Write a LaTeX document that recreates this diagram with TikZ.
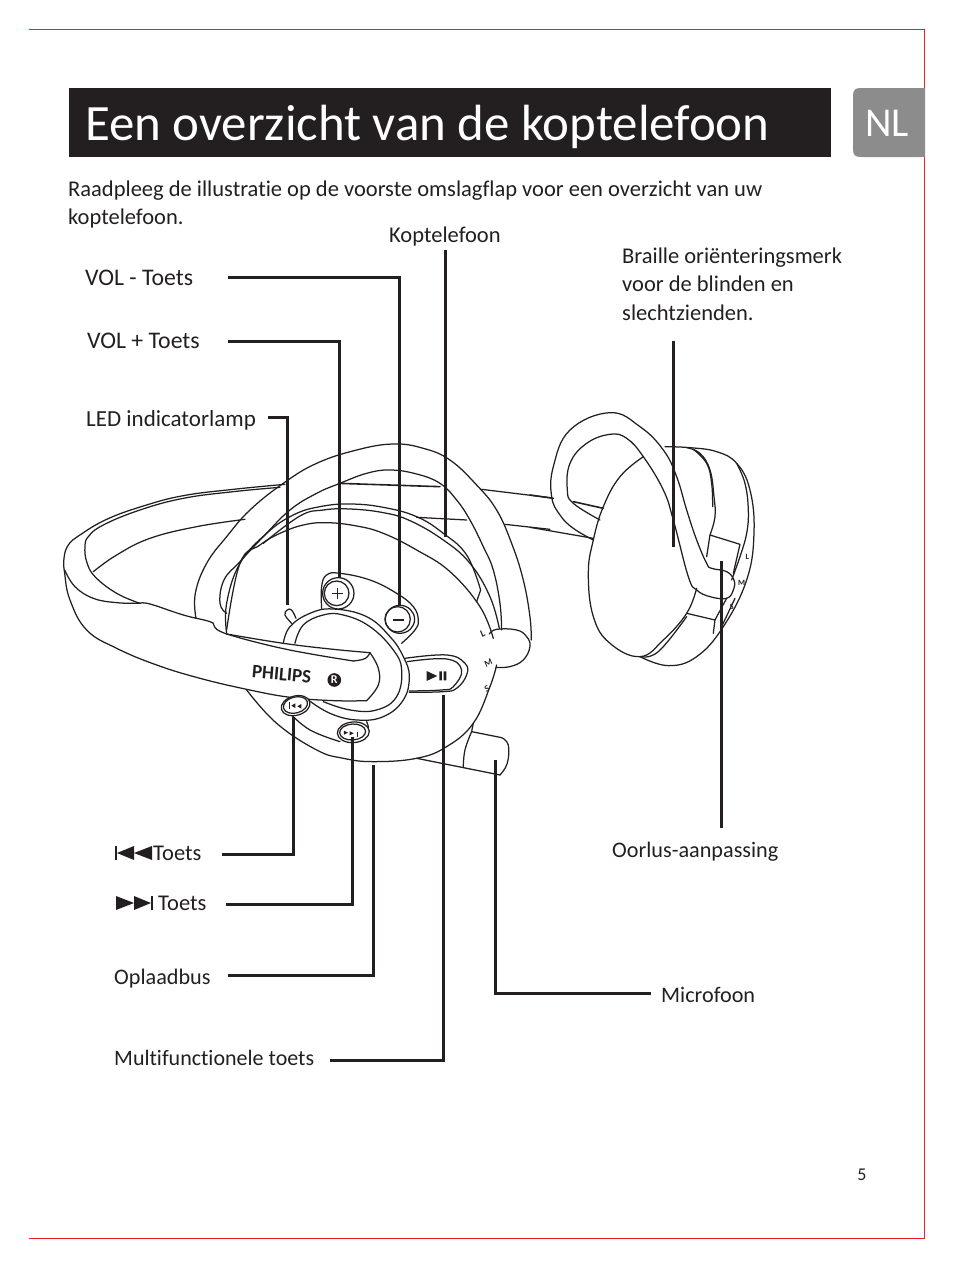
\documentclass[tikz,border=0pt]{standalone}
\usepackage{fontspec}
\setmainfont[Ligatures=CommonOff]{Carlito}
\definecolor{ink}{HTML}{231F20}
\definecolor{edge}{HTML}{E8202E}
\tikzset{
 ln/.style={line width=1.25pt,draw=ink,line cap=round,line join=round},
 lead/.style={line width=3pt,draw=ink},
 lbl/.style={anchor=base west,inner sep=0pt,text=ink,font=\fontsize{22.5}{28}\selectfont}
}
\newcommand{\crv}[1]{\draw[ln] plot[smooth,tension=0.7] coordinates {#1};}
\begin{document}
\begin{tikzpicture}[x=1pt,y=-1pt]
\useasboundingbox (0,0) rectangle (954,1267);
% page border
\draw[line width=0.9pt,draw=edge] (29,29) -- (924,29) -- (924,1238) -- (29,1238);
% title
\fill[ink] (69,88) rectangle (831,157);
\node[anchor=base west,inner sep=0pt,text=white,font=\fontsize{50.9}{60}\selectfont] (title) at (85,140) {Een overzicht van de koptelefoon};
\fill[black!45] (925,88) -- (861,88) .. controls (855,88) and (853,90) .. (853,96) -- (853,149) .. controls (853,155) and (855,157) .. (861,157) -- (925,157) -- cycle;
\node[anchor=base,inner sep=0pt,text=white,font=\fontsize{41}{44}\selectfont] (nl) at (887,136) {NL};
\node[lbl] (intro1) at (68,196) {Raadpleeg de illustratie op de voorste omslagflap voor een overzicht van uw};
\node[lbl] (intro2) at (68,224) {koptelefoon.};
\node[lbl] (kop) at (389,242) {Koptelefoon};
\node[lbl] (br1) at (622,263) {Braille oriënteringsmerk};
\node[lbl] (br2) at (622,291) {voor de blinden en};
\node[lbl] (br3) at (622,320) {slechtzienden.};
\node[lbl,font=\fontsize{23.8}{28}\selectfont] (volm) at (85,285) {VOL - Toets};
\node[lbl,font=\fontsize{23.8}{28}\selectfont] (volp) at (87,348) {VOL + Toets};
\node[lbl,font=\fontsize{23}{28}\selectfont] (led) at (86,426) {LED indicatorlamp};
\node[lbl] (prev) at (153,860) {Toets};
\node[lbl] (next) at (158,910) {Toets};
\node[lbl,font=\fontsize{22.2}{28}\selectfont] (opl) at (114,984) {Oplaadbus};
\node[lbl,font=\fontsize{22}{28}\selectfont] (multi) at (114,1065) {Multifunctionele toets};
\node[lbl,font=\fontsize{22.2}{28}\selectfont] (oor) at (612,857) {Oorlus-aanpassing};
\node[lbl,font=\fontsize{22.2}{28}\selectfont] (mic) at (661,1002) {Microfoon};
\node[anchor=base,inner sep=0pt,text=ink,font=\fontsize{18}{20}\selectfont] (pg) at (862,1180) {5};
% transport icons in labels
\fill[ink] (115,846) rectangle (117,860);
\fill[ink] (117,853) -- (134,846) -- (134,860) -- cycle (134,853) -- (152,846) -- (152,860) -- cycle;
\fill[ink] (116,896) -- (134,903) -- (116,910) -- cycle (134,896) -- (151,903) -- (134,910) -- cycle;
\fill[ink] (151,896) rectangle (153,910);

\begin{scope}[xshift=50pt,yshift=-430pt,x=0.3333pt,y=-0.3333pt]
% headband
\crv{(705,163) (550,178) (400,197) (280,228) (170,268) (90,315) (55,345) (42,385) (44,430) (60,510) (110,600) (200,655) (320,705) (450,745) (590,778) (720,802) (850,812) (950,812)}
\crv{(950,812) (985,765) (985,715) (960,668)}
\crv{(44,420) (75,470) (130,505) (200,518) (270,520)}
\crv{(270,520) (300,522) (400,555) (470,572) (490,580)}
\crv{(490,580) (500,598) (530,612)}
\crv{(530,612) (700,640) (850,658) (960,668)}
\crv{(960,668) (945,686) (910,693)}
\crv{(910,693) (800,675) (700,656) (600,632) (530,612)}
\crv{(690,172) (550,185) (400,205) (270,240) (160,285) (115,320) (105,350) (110,395) (135,440) (200,490) (270,520)}
\crv{(130,425) (200,375) (300,325) (440,290) (585,268)}
\draw[ln] (1295,178) -- (1500,203);
\draw[ln] (1365,283) -- (1500,298);
\draw[ln,line width=1.6pt] (865,160) -- (1170,170);
\draw[ln] (1100,262) -- (1250,270);
% ear hook over the near cup
\crv{(438,565) (436,490) (470,400) (530,320) (600,240) (700,160) (800,100) (920,60) (1030,42) (1120,55) (1200,90) (1280,165) (1340,240) (1385,340) (1420,450) (1440,560) (1444,630)}
\crv{(530,550) (510,520) (522,450) (570,395) (640,320) (720,240) (800,190) (870,160) (950,130) (1020,120) (1100,132) (1170,160) (1220,210) (1260,270) (1300,350) (1330,420) (1350,520) (1355,600)}
% near cup arcs
\crv{(530,610) (530,520) (570,400) (650,310) (730,255) (810,230) (900,222) (1000,232) (1100,260) (1180,310) (1250,375) (1292,480)}
\draw[ln] (1292,480) -- (1280,515);
\crv{(640,340) (750,258) (820,240) (900,237) (1000,248) (1080,272) (1180,330) (1260,400) (1320,500) (1348,595)}
\crv{(530,600) (570,400) (630,345) (690,310) (760,285) (830,278) (920,288) (1000,310) (1100,360) (1200,425) (1290,530) (1330,625)}
\crv{(1340,705) (1320,770) (1270,880) (1190,950) (1100,985) (970,995) (880,985) (800,960) (680,880) (590,780)}
% side bulge
\crv{(1318,612) (1340,598) (1400,600) (1430,620) (1440,650) (1420,690) (1380,710) (1338,712)}
% central oval
\crv{(700,640) (720,590) (780,550) (850,537) (950,560) (1020,620) (1060,680) (1078,740) (1060,810) (1000,860) (920,870) (840,850) (775,810)}
\crv{(735,640) (760,585) (820,555) (880,555) (960,590) (1030,660) (1055,720) (1040,800) (980,840) (900,840) (820,815)}
% volume plate
\crv{(815,535) (815,470) (830,435) (870,430) (960,450) (1040,490) (1090,530) (1105,570) (1095,600) (1055,640)}
\draw[ln,fill=white] (865,490) circle[radius=47];
\draw[ln] (860,490) circle[radius=37];
\draw[ln,fill=white] (1050,568) ellipse[x radius=44,y radius=42];
\draw[ln] (1043,568) circle[radius=38];
\draw[line width=1.6pt,ink] (845,490) -- (878,490) (862,473) -- (862,507);
\draw[line width=1.6pt,ink] (1028,570) -- (1062,570);
% LED
\crv{(725,580) (705,555) (712,540) (725,540) (738,565)}
% play button
\crv{(1065,685) (1190,675) (1245,700) (1250,735) (1220,775) (1180,785) (1078,787)}
\crv{(1072,695) (1190,687) (1235,720) (1210,770) (1175,780) (1078,783)}
\fill[ink] (1130,723) -- (1162,738) -- (1130,753) -- cycle;
\fill[ink] (1168,724) rectangle (1176,751) (1181,724) rectangle (1189,751);
% lower ridge and skip buttons
\crv{(720,850) (780,900) (870,935)}
\crv{(950,875) (955,895) (945,915)}
\draw[ln,fill=white,rotate around={15:(737,827)}] (737,827) ellipse[x radius=44,y radius=29];
\draw[ln,rotate around={15:(737,827)}] (737,825) ellipse[x radius=37,y radius=24];
\draw[ln,fill=white,rotate around={4:(910,907)}] (910,907) ellipse[x radius=48,y radius=31];
\draw[ln,rotate around={4:(910,907)}] (908,906) ellipse[x radius=39,y radius=24];
\fill[ink] (718,815) rectangle (721,838);
\fill[ink] (724,827) -- (736,820) -- (736,834) -- cycle (742,829) -- (754,822) -- (754,836) -- cycle;
\fill[ink] (882,902) -- (894,908) -- (882,914) -- cycle (899,904) -- (911,910) -- (899,916) -- cycle;
\fill[ink] (922,906) rectangle (925,920);
% microphone
\crv{(1265,905) (1245,960) (1240,1012)}
\draw[ln] (1270,880) -- (1265,905) -- (1355,923);
\crv{(1355,923) (1375,945) (1372,1000) (1350,1035)}
\draw[ln] (1100,985) -- (1350,1035);
% side text
\node[rotate=30,text=ink,inner sep=0pt,font=\fontsize{10}{10}\selectfont\bfseries\itshape] (cl) at (1298,612) {L};
\node[rotate=30,text=ink,inner sep=0pt,font=\fontsize{9}{9}\selectfont\bfseries\itshape] (cm) at (1315,698) {M};
\node[rotate=30,text=ink,inner sep=0pt,font=\fontsize{9}{9}\selectfont\bfseries\itshape] (cs) at (1310,776) {S};
\node[rotate=-5,text=ink,inner sep=0pt,font=\fontsize{19}{19}\selectfont\bfseries] (brand) at (695,733) {PHILIPS};
\node[circle,fill=ink,text=white,inner sep=1.2pt,font=\fontsize{12}{12}\selectfont\bfseries] (reg) at (853,750) {R};
\end{scope}

\begin{scope}[xshift=530pt,yshift=-400pt,x=0.3333pt,y=-0.3333pt]
\crv{(190,420) (130,385) (90,345) (65,290) (70,200) (120,90) (240,38) (330,80) (400,150) (440,230) (470,330) (500,420) (530,490) (545,505) (590,515) (612,540) (610,570) (590,595) (540,590) (500,570) (475,530) (430,360) (400,270) (340,170) (290,115) (240,103) (170,130) (120,190) (112,270) (130,310) (210,360)}
\crv{(340,170) (270,230) (220,320) (190,420) (175,520) (190,650) (240,730) (330,770) (400,720) (470,640) (500,565)}
\crv{(330,770) (385,755) (470,650)}
\crv{(330,770) (415,797) (500,770) (580,680) (650,540) (672,400) (660,270) (620,190) (560,155) (480,143) (405,140)}
\crv{(620,190) (645,250) (655,330) (650,400) (630,470) (605,540)}
\crv{(470,143) (510,160) (540,210) (552,290) (555,350) (540,405)}
\crv{(490,148) (530,190) (545,250) (548,320)}
\draw[ln] (540,405) -- (630,433) -- (610,520) (540,405) -- (530,470) (470,640) -- (555,660) -- (590,595) (555,660) -- (550,700) (575,680) -- (615,595);
\draw[ln,line width=1.6pt] (0,285) -- (70,295) (130,305) -- (220,325);
\draw[ln] (0,382) -- (190,415);
\node[text=ink,inner sep=0pt,font=\fontsize{8}{8}\selectfont\bfseries] (rl) at (652,472) {L};
\node[text=ink,inner sep=0pt,font=\fontsize{8}{8}\selectfont\bfseries] (rm) at (635,550) {M};
\node[text=ink,inner sep=0pt,font=\fontsize{8}{8}\selectfont\bfseries] (rs) at (605,622) {S};
\end{scope}

% leaders
\coordinate (a1) at (228,277); \coordinate (a2) at (399,277); \coordinate (a3) at (399,606);
\draw[lead] (a1) -- (a2) -- (a3);
\coordinate (b1) at (228,341); \coordinate (b2) at (339,341); \coordinate (b3) at (339,578);
\draw[lead] (b1) -- (b2) -- (b3);
\coordinate (c1) at (268,417); \coordinate (c2) at (287,417); \coordinate (c3) at (287,605);
\draw[lead] (c1) -- (c2) -- (c3);
\coordinate (d1) at (445,250); \coordinate (d2) at (445,537);
\draw[lead] (d1) -- (d2);
\coordinate (e1) at (673,341); \coordinate (e2) at (673,547);
\draw[lead] (e1) -- (e2);
\coordinate (f1) at (721,561); \coordinate (f2) at (721,828);
\draw[lead] (f1) -- (f2);
\coordinate (g1) at (293,717); \coordinate (g2) at (293,854); \coordinate (g3) at (222,854);
\draw[lead] (g1) -- (g2) -- (g3);
\coordinate (h1) at (352,737); \coordinate (h2) at (352,904); \coordinate (h3) at (226,904);
\draw[lead] (h1) -- (h2) -- (h3);
\coordinate (i1) at (373,765); \coordinate (i2) at (373,975); \coordinate (i3) at (228,975);
\draw[lead] (i1) -- (i2) -- (i3);
\coordinate (j1) at (443,695); \coordinate (j2) at (443,1060); \coordinate (j3) at (330,1060);
\draw[lead] (j1) -- (j2) -- (j3);
\coordinate (k1) at (495,760); \coordinate (k2) at (495,993); \coordinate (k3) at (651,993);
\draw[lead] (k1) -- (k2) -- (k3);
\end{tikzpicture}
\end{document}
